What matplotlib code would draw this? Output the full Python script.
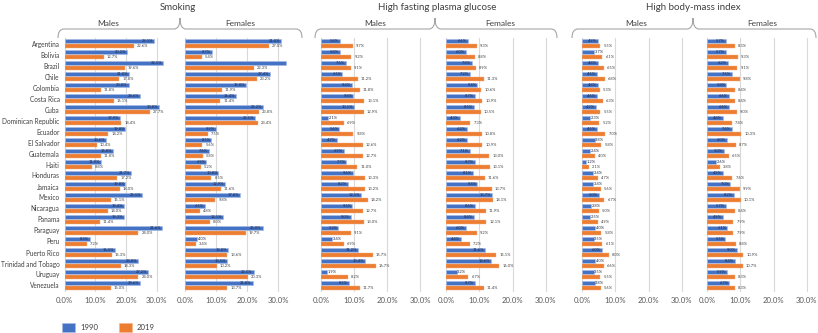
import matplotlib
matplotlib.use("Agg")
import matplotlib.pyplot as plt
from matplotlib.path import Path
from matplotlib.patches import PathPatch
from matplotlib.transforms import Affine2D
import numpy as np

plt.rcParams['font.family'] = ['Lato', 'DejaVu Sans']

countries = ["Argentina", "Bolivia", "Brazil", "Chile", "Colombia", "Costa Rica", "Cuba",
             "Dominican Republic", "Ecuador", "El Salvador", "Guatemala", "Haiti", "Honduras",
             "Jamaica", "Mexico", "Nicaragua", "Panama", "Paraguay", "Peru", "Puerto Rico",
             "Trinidad and Tobago", "Uruguay", "Venezuela"]

# Attributable percentages (%), 1990 and 2019
smoking_m_1990 = [29.1, 20.2, 32.1, 21.0, 20.8, 24.6, 30.8, 17.9, 19.8, 13.6, 15.8, 11.9,
                  21.7, 19.8, 25.1, 19.4, 19.3, 31.6, 8.3, 16.5, 23.8, 27.2, 24.6]
smoking_m_2019 = [22.6, 12.7, 19.6, 17.8, 11.8, 16.1, 27.7, 18.4, 14.2, 10.4, 11.8, 8.8,
                  17.2, 18.0, 15.1, 14.0, 11.4, 24.0, 7.2, 15.3, 18.3, 24.0, 15.0]
smoking_f_1990 = [31.0, 8.7, 32.6, 27.4, 19.8, 16.4, 25.2, 22.5, 9.9, 8.5, 7.6, 6.9,
                  10.8, 12.9, 17.8, 6.5, 12.1, 25.0, 4.0, 13.8, 13.5, 22.1, 21.8]
smoking_f_2019 = [27.0, 5.4, 22.3, 23.2, 11.9, 11.4, 23.8, 23.4, 7.5, 5.6, 5.8, 5.2,
                  8.5, 11.6, 9.8, 4.8, 8.0, 19.7, 3.4, 13.6, 10.2, 20.3, 13.7]
glucose_m_1990 = [5.8, 5.8, 7.6, 6.5, 9.4, 9.8, 10.1, 2.1, 5.6, 4.7, 6.9, 7.7,
                  9.6, 8.2, 12.1, 9.5, 9.0, 5.3, 3.4, 11.2, 13.4, 1.9, 8.5]
glucose_m_2019 = [9.7, 9.2, 9.1, 11.2, 11.8, 13.1, 12.9, 6.9, 9.8, 12.6, 12.7, 11.0,
                  13.3, 13.2, 14.2, 12.7, 13.0, 9.1, 6.9, 15.7, 16.7, 8.2, 11.7]
glucose_f_1990 = [6.6, 6.0, 7.8, 7.2, 9.4, 8.7, 8.5, 4.3, 6.2, 6.2, 7.1, 8.7,
                  8.1, 9.4, 13.7, 8.6, 8.4, 6.0, 4.4, 11.6, 13.6, 3.2, 8.7]
glucose_f_2019 = [9.3, 8.8, 8.9, 11.3, 10.6, 10.9, 10.5, 7.3, 10.8, 10.9, 13.0, 13.1,
                  11.6, 13.7, 14.1, 11.9, 12.1, 9.2, 7.2, 15.1, 16.0, 6.7, 11.4]
bmi_m_1990 = [4.9, 3.7, 4.8, 4.5, 4.8, 4.6, 4.2, 2.3, 4.5, 3.8, 2.4, 1.2,
              3.4, 3.4, 5.0, 2.8, 2.5, 4.0, 3.5, 6.0, 4.0, 3.5, 3.8]
bmi_m_2019 = [5.5, 6.1, 6.5, 6.8, 5.3, 6.3, 5.5, 5.2, 7.0, 5.8, 4.0, 2.1,
              4.7, 5.6, 6.7, 5.0, 4.9, 5.8, 6.1, 8.0, 6.6, 5.5, 5.6]
bmi_f_1990 = [5.7, 5.7, 6.2, 7.5, 5.8, 6.6, 6.6, 4.8, 7.4, 6.0, 5.0, 2.6,
              4.9, 7.0, 8.2, 5.7, 4.9, 6.1, 5.5, 9.0, 8.4, 5.9, 6.7]
bmi_f_2019 = [8.3, 9.3, 9.1, 9.8, 8.4, 8.4, 9.0, 7.4, 10.3, 8.7, 6.5, 3.8,
              7.6, 9.9, 10.1, 8.4, 7.9, 7.9, 8.8, 10.9, 10.7, 8.3, 8.3]

group_titles = ["Smoking", "High fasting plasma glucose", "High body-mass index"]
sex_titles = ["Males", "Females"]
tick_values = [0, 10, 20, 30]
series_names = ["1990", "2019"]

BLUE = "#4472C4"
ORANGE = "#ED7D31"
GRID = "#D9D9D9"
TXT = "#404040"

W, H = 818, 333
fig = plt.figure(figsize=(W / 100, H / 100), dpi=100)
px = Affine2D().scale(1 / W, -1 / H).translate(0, 1) + fig.transFigure

Y_TOP, Y_BOT = 38, 291

# (left px of 0%, px per percentage point, x max, data 1990, data 2019, hidden 1990 labels)
panels = [
    (64.5, 3.08, 35, smoking_m_1990, smoking_m_2019, set()),
    (185, 3.10, 35, smoking_f_1990, smoking_f_2019, {2}),
    (321, 3.30, 30, glucose_m_1990, glucose_m_2019, set()),
    (446, 3.33, 30, glucose_f_1990, glucose_f_2019, set()),
    (582, 3.33, 30, bmi_m_1990, bmi_m_2019, set()),
    (707, 3.33, 30, bmi_f_1990, bmi_f_2019, set()),
]

n = len(countries)
ypos = np.arange(n)
bh = 0.38
LBL = 2.9

for i, (x0, ppp, xmax, v90, v19, hidden) in enumerate(panels):
    ax = fig.add_axes([x0 / W, (H - Y_BOT) / H, xmax * ppp / W, (Y_BOT - Y_TOP) / H])
    ax.set_xlim(0, xmax)
    ax.set_ylim(n - 0.5, -0.5)
    for s in ax.spines.values():
        s.set_visible(False)
    for t in tick_values:
        ax.axvline(t, color=GRID, lw=0.8, zorder=0, clip_on=False)
    ax.barh(ypos - bh / 2 - 0.02, v90, height=bh, color=BLUE, edgecolor="#A9BCE6",
            linewidth=0.4, zorder=2)
    ax.barh(ypos + bh / 2 + 0.02, v19, height=bh, color=ORANGE, edgecolor="#F4B183",
            linewidth=0.3, zorder=2)
    ax.set_xticks(tick_values)
    ax.set_xticklabels([f"{t:.1f}%" for t in tick_values], fontsize=5.6, color="#595959")
    ax.tick_params(axis="x", length=0, pad=4)
    if i == 0:
        ax.set_yticks(ypos)
        ax.set_yticklabels(countries, fontsize=4.7, color=TXT)
        ax.tick_params(axis="y", length=0, pad=3.5)
    else:
        ax.set_yticks([])
    wtxt = 12.5 / ppp
    for k in range(n):
        a, b = v90[k], v19[k]
        if k not in hidden:
            if a >= wtxt + 0.4:
                ax.text(a - 0.3, k - bh / 2 - 0.02, f"{a:.1f}%", fontsize=LBL, color="#1F2A44",
                        ha="right", va="center", zorder=3, clip_on=False)
            else:
                ax.text(max(a, 1.0) + 0.2, k - bh / 2 - 0.02, f"{a:.1f}%", fontsize=LBL,
                        color="#1F2A44", ha="left", va="center", zorder=3, clip_on=False)
        ax.text(b + 3.0 / ppp, k + bh / 2 + 0.08, f"{b:.1f}%", fontsize=LBL, color=TXT,
                ha="left", va="center", zorder=3, clip_on=False)


def brace(x0, xm, x1, y_line=29, y_end=38, y_tip=18, r=6):
    verts = [(x0, y_end), (x0, y_line), (x0 + r, y_line),
             (xm - r, y_line), (xm, y_line), (xm, y_tip),
             (xm, y_line), (xm + r, y_line),
             (x1 - r, y_line), (x1, y_line), (x1, y_end)]
    codes = [Path.MOVETO, Path.CURVE3, Path.CURVE3,
             Path.LINETO, Path.CURVE3, Path.CURVE3,
             Path.CURVE3, Path.CURVE3,
             Path.LINETO, Path.CURVE3, Path.CURVE3]
    patch = PathPatch(Path(verts, codes), facecolor="none", edgecolor="#A6A6A6",
                      lw=0.8, transform=px)
    fig.add_artist(patch)


brace_spec = [(58, 180, 302), (315, 435, 557), (572, 693, 816)]
title_x = [178, 437, 693]
sex_x = [(108, 240), (375, 500), (636, 762)]

for g in range(3):
    brace(*brace_spec[g])
    fig.text(title_x[g] / W, 1 - 7 / H, group_titles[g], fontsize=7, color=TXT,
             ha="center", va="center")
    for s in range(2):
        fig.text(sex_x[g][s] / W, 1 - 24 / H, sex_titles[s], fontsize=6, color=TXT,
                 ha="center", va="center")

# legend
for x_sq, col, name in [(62, BLUE, series_names[0]), (119, ORANGE, series_names[1])]:
    sq = plt.Rectangle((x_sq / W, 1 - 333 / H + 1 / H), 13 / W, 9.5 / H, transform=fig.transFigure,
                       facecolor=col, edgecolor="#A9BCE6" if col == BLUE else "#F4B183", lw=0.4)
    fig.add_artist(sq)
    fig.text((x_sq + 18) / W, 1 - 327.5 / H, name, fontsize=5.6, color=TXT,
             ha="left", va="center")

fig.savefig("out.png", dpi=100)
